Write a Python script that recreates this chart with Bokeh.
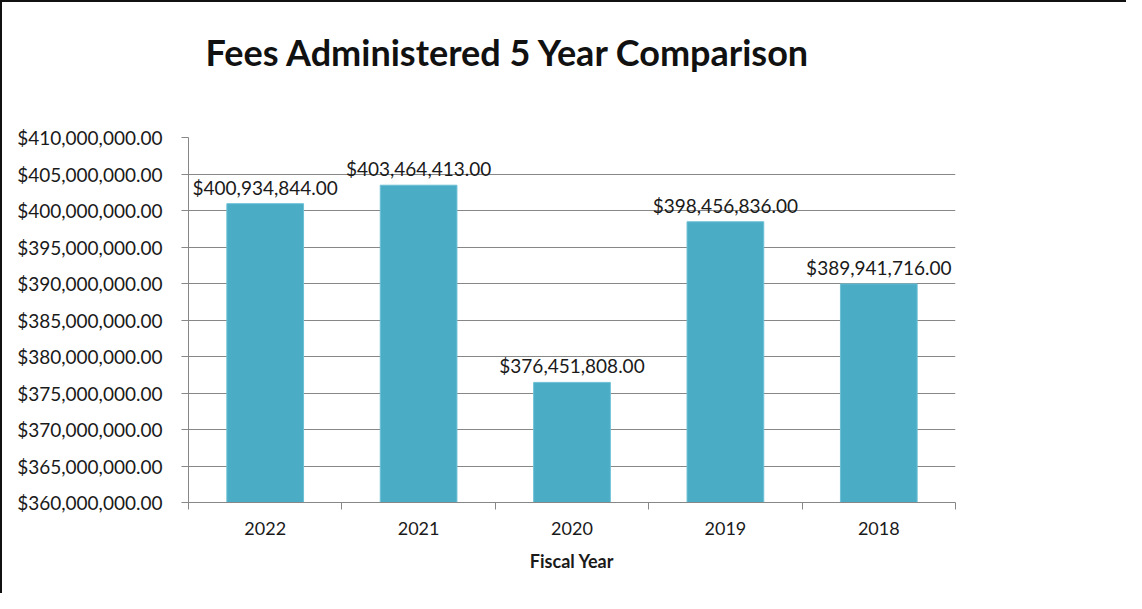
from bokeh.plotting import figure
from bokeh.models import Range1d, FixedTicker, NumeralTickFormatter, LabelSet, Title, ColumnDataSource
from bokeh.core.properties import value
from bokeh.embed import file_html
from bokeh.resources import INLINE

# ---- data ----
years = ["2022", "2021", "2020", "2019", "2018"]
fees = [400934844.00, 403464413.00, 376451808.00, 398456836.00, 389941716.00]
y_ticks = [360000000, 365000000, 370000000, 375000000, 380000000, 385000000,
           390000000, 395000000, 400000000, 405000000, 410000000]
title_text = "Fees Administered 5 Year Comparison"
x_title = "Fiscal Year"

FONT = "Lato"
GRID = "#878787"
BAR = "#4BACC6"
TXT = "#1a1a1a"
LBL = "19px"

xs = [i + 0.5 for i in range(len(years))]
fee_labels = ["${:,.2f}".format(v) for v in fees]
src = ColumnDataSource(dict(x=xs, fees=fees, label=fee_labels))

p = figure(width=1126, height=593,
           x_range=Range1d(0, len(years)), y_range=Range1d(y_ticks[0], y_ticks[-1]),
           output_backend="svg", toolbar_location=None,
           min_border_left=186, min_border_right=173,
           min_border_top=135, min_border_bottom=93)
p.title_location = None
p.styles = {"border-top": "2px solid #111", "border-left": "2px solid #111"}

p.vbar(x="x", top="fees", bottom=y_ticks[0], width=0.5, source=src,
       fill_color=BAR, line_color="#6cc0d6", line_width=1)

labels = LabelSet(x="x", y="fees", text="label", source=src,
                  text_align="center", text_baseline="alphabetic", y_offset=9,
                  text_font=value(FONT), text_font_size=LBL, text_color=TXT)
p.add_layout(labels)

# spacer between the frame and the chart title
spacer = Title(text=" ", text_font_size="1px", standoff=56)
p.add_layout(spacer, "above")
main_title = Title(text=title_text, text_font=FONT, text_font_style="bold",
                   text_font_size="36px", text_color="#111111",
                   align="left", offset=17, standoff=10)
p.add_layout(main_title, "above")

p.outline_line_color = None
p.background_fill_color = "white"
p.border_fill_color = "white"

p.xgrid.grid_line_color = None
p.ygrid.ticker = FixedTicker(ticks=y_ticks)
p.ygrid.grid_line_color = GRID
p.ygrid.grid_line_width = 1

yax = p.yaxis[0]
yax.ticker = FixedTicker(ticks=y_ticks)
yax.formatter = NumeralTickFormatter(format="$0,0.00")
yax.major_tick_out = 7
yax.major_tick_in = 0
yax.minor_tick_out = 0
yax.minor_tick_in = 0
yax.axis_line_color = GRID
yax.major_tick_line_color = GRID
yax.major_label_standoff = 19
yax.major_label_text_font = FONT
yax.major_label_text_font_size = LBL
yax.major_label_text_color = TXT

xax = p.xaxis[0]
xax.ticker = FixedTicker(ticks=xs, minor_ticks=list(range(len(years) + 1)))
xax.major_label_overrides = {x: y for x, y in zip(xs, years)}
xax.major_tick_out = 0
xax.major_tick_in = 0
xax.minor_tick_out = 7
xax.minor_tick_in = 0
xax.minor_tick_line_color = GRID
xax.axis_line_color = GRID
xax.major_label_standoff = 12
xax.major_label_text_font = FONT
xax.major_label_text_font_size = "18px"
xax.major_label_text_color = TXT
xax.axis_label = x_title
xax.axis_label_text_font = FONT
xax.axis_label_text_font_style = "bold"
xax.axis_label_text_font_size = "18px"
xax.axis_label_text_color = TXT
xax.axis_label_standoff = 12

open("out.html", "w").write(file_html(p, INLINE))
